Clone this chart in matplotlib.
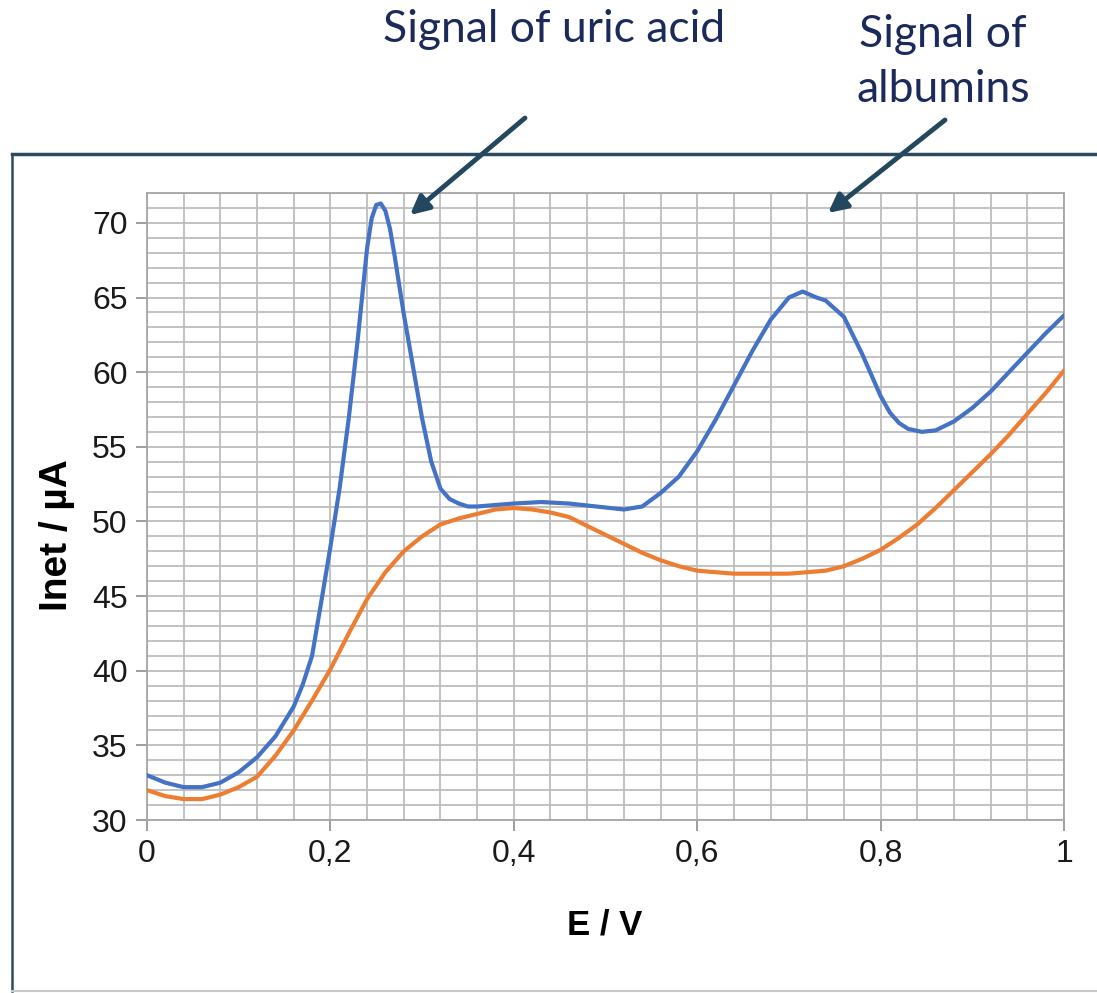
import matplotlib
matplotlib.use("Agg")
import matplotlib.pyplot as plt
from matplotlib.lines import Line2D
from matplotlib.ticker import MultipleLocator

# potencial (V) e corrente (uA)
e_azul = [0, 0.02, 0.04, 0.06, 0.08, 0.10, 0.12, 0.14, 0.16, 0.17, 0.18, 0.19, 0.20,
          0.21, 0.22, 0.23, 0.24, 0.245, 0.25, 0.255, 0.26, 0.265, 0.27, 0.28,
          0.29, 0.30, 0.31, 0.32, 0.33, 0.34, 0.35, 0.36, 0.38, 0.40, 0.43,
          0.46, 0.49, 0.52, 0.54, 0.56, 0.58, 0.60, 0.62, 0.64, 0.66, 0.68,
          0.70, 0.715, 0.73, 0.74, 0.76, 0.78, 0.80, 0.81, 0.82, 0.83, 0.845,
          0.86, 0.88, 0.90, 0.92, 0.94, 0.96, 0.98, 1.0]
i_azul = [33.0, 32.5, 32.2, 32.2, 32.5, 33.2, 34.2, 35.6, 37.6, 39.1, 41.0, 44.6, 48.3,
          52.2, 56.9, 62.3, 68.3, 70.3, 71.2, 71.3, 70.8, 69.6, 67.8, 63.9,
          60.4, 56.9, 54.0, 52.2, 51.5, 51.2, 51.0, 51.0, 51.1, 51.2, 51.3,
          51.2, 51.0, 50.8, 51.0, 51.9, 53.0, 54.7, 56.8, 59.1, 61.4, 63.5,
          65.0, 65.4, 65.0, 64.8, 63.7, 61.2, 58.4, 57.3, 56.6, 56.2, 56.0,
          56.1, 56.7, 57.6, 58.7, 60.0, 61.3, 62.6, 63.8]

e_laranja = [0, 0.02, 0.04, 0.06, 0.08, 0.10, 0.12, 0.14, 0.16, 0.18, 0.20,
             0.22, 0.24, 0.26, 0.28, 0.30, 0.32, 0.34, 0.36, 0.38, 0.40, 0.42,
             0.44, 0.46, 0.48, 0.50, 0.52, 0.54, 0.56, 0.58, 0.60, 0.62, 0.64,
             0.66, 0.68, 0.70, 0.72, 0.74, 0.76, 0.78, 0.80, 0.82, 0.84, 0.86,
             0.88, 0.90, 0.92, 0.94, 0.96, 0.98, 1.0]
i_laranja = [32.0, 31.6, 31.4, 31.4, 31.7, 32.2, 32.9, 34.3, 36.0, 38.0, 40.1,
             42.5, 44.8, 46.6, 48.0, 49.0, 49.8, 50.2, 50.5, 50.8, 50.9, 50.8,
             50.6, 50.3, 49.7, 49.1, 48.5, 47.9, 47.4, 47.0, 46.7, 46.6, 46.5,
             46.5, 46.5, 46.5, 46.6, 46.7, 47.0, 47.5, 48.1, 48.9, 49.8, 50.9,
             52.1, 53.3, 54.5, 55.8, 57.2, 58.6, 60.1]

x_ticks = [0, 0.2, 0.4, 0.6, 0.8, 1]
x_labels = ["0", "0,2", "0,4", "0,6", "0,8", "1"]
y_ticks = [30, 35, 40, 45, 50, 55, 60, 65, 70]

W, H = 1097, 993
fig = plt.figure(figsize=(W / 100, H / 100), dpi=100)
ax = fig.add_axes([147 / W, 1 - 820 / H, (1064 - 147) / W, (820 - 193) / H])

fonte_eixo = ["Liberation Sans", "DejaVu Sans"]
cinza = "#bdbdbd"

ax.plot(e_azul, i_azul, color="#4472c4", lw=3.0, zorder=3, solid_joinstyle="round")
ax.plot(e_laranja, i_laranja, color="#ed7d31", lw=3.0, zorder=3, solid_joinstyle="round")

ax.set_xlim(0, 1)
ax.set_ylim(30, 72)
ax.set_xticks(x_ticks)
ax.set_xticklabels(x_labels)
ax.set_yticks(y_ticks)
ax.xaxis.set_minor_locator(MultipleLocator(0.04))
ax.yaxis.set_minor_locator(MultipleLocator(1))
ax.grid(True, which="both", color=cinza, lw=1.3)
ax.set_axisbelow(True)
for s in ax.spines.values():
    s.set_color("#a6a6a6")
    s.set_linewidth(1.3)
ax.tick_params(which="major", direction="out", length=8, width=1.2,
               color="#8c8c8c", labelsize=23, pad=6)
ax.tick_params(which="minor", length=0)
for lab in ax.get_xticklabels() + ax.get_yticklabels():
    lab.set_family(fonte_eixo)
    lab.set_color("#1a1a1a")

fig.text(605 / W, 1 - 925 / H, "E / V", family=fonte_eixo, weight="bold",
         fontsize=25, ha="center", va="center")
fig.text(57 / W, 1 - 535 / H, "Inet / µA", family=fonte_eixo,
         weight="bold", fontsize=28, rotation=90, ha="center", va="center")

# moldura
fig.add_artist(Line2D([12 / W, 1], [1 - 154 / H, 1 - 154 / H], color="#2b4a5e", lw=2.5))
fig.add_artist(Line2D([12 / W, 12 / W], [1 - 154 / H, 1 - 991 / H], color="#2b4a5e", lw=1.8))
fig.add_artist(Line2D([12 / W, 1], [1 - 991 / H, 1 - 991 / H], color="#c8c8c8", lw=1.5))

# anotacoes
cor_txt = "#1b2a5a"
fig.text(554 / W, 1 - 30 / H, "Signal of uric acid", family="Lato", fontsize=32,
         color=cor_txt, ha="center", va="center")
fig.text(943 / W, 1 - 62 / H, "Signal of\nalbumins", family="Lato", fontsize=32,
         color=cor_txt, ha="center", va="center", linespacing=1.45)

setas = [((525, 118), (410, 215)), ((945, 120), (828, 213))]
for (x0, y0), (x1, y1) in setas:
    ax.annotate("", xy=(x1 / W, 1 - y1 / H), xytext=(x0 / W, 1 - y0 / H),
                xycoords="figure fraction", textcoords="figure fraction",
                arrowprops=dict(arrowstyle="-|>", color="#23475e", lw=3.5,
                                mutation_scale=28, shrinkA=0, shrinkB=0),
                annotation_clip=False)

fig.savefig("out.png", dpi=100)
